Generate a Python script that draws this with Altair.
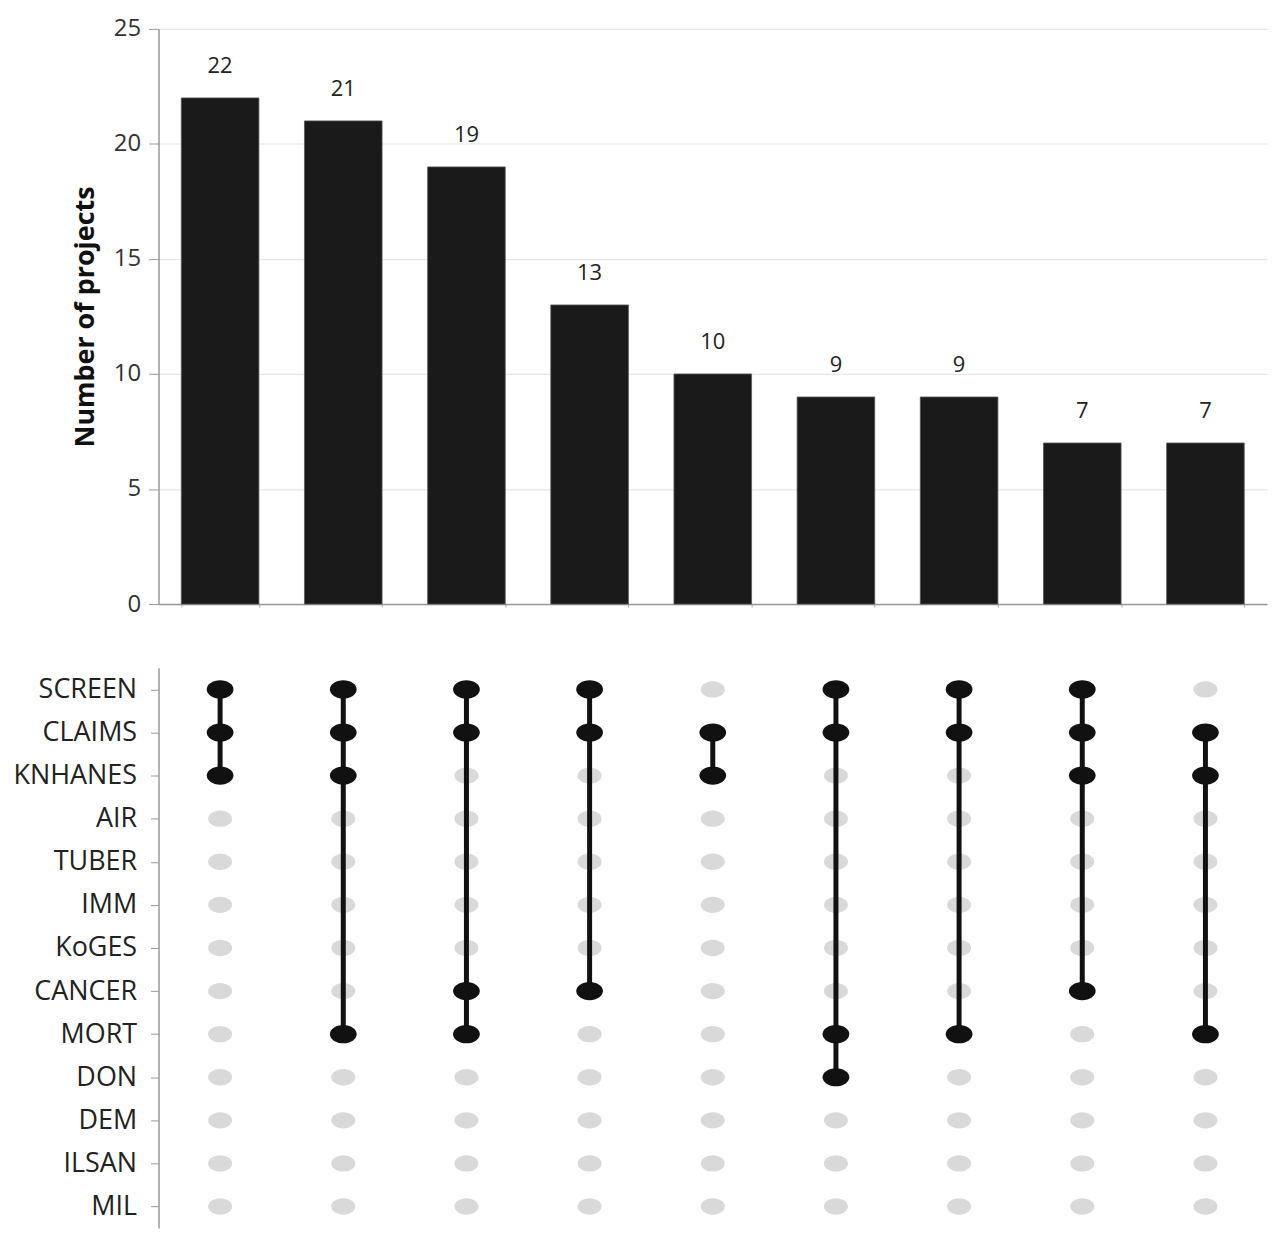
import altair as alt
import pandas as pd

sets = ["SCREEN", "CLAIMS", "KNHANES", "AIR", "TUBER", "IMM", "KoGES",
        "CANCER", "MORT", "DON", "DEM", "ILSAN", "MIL"]
counts = [22, 21, 19, 13, 10, 9, 9, 7, 7]
combos = [
    ["SCREEN", "CLAIMS", "KNHANES"],
    ["SCREEN", "CLAIMS", "KNHANES", "MORT"],
    ["SCREEN", "CLAIMS", "CANCER", "MORT"],
    ["SCREEN", "CLAIMS", "CANCER"],
    ["CLAIMS", "KNHANES"],
    ["SCREEN", "CLAIMS", "MORT", "DON"],
    ["SCREEN", "CLAIMS", "MORT"],
    ["SCREEN", "CLAIMS", "KNHANES", "CANCER"],
    ["CLAIMS", "KNHANES", "MORT"],
]
col_ids = [f"C{i + 1}" for i in range(len(counts))]

bars_df = pd.DataFrame({"col": col_ids, "count": counts})

cells = []
for cid, combo in zip(col_ids, combos):
    for s in sets:
        cells.append({"col": cid, "set": s, "active": s in combo})
cells_df = pd.DataFrame(cells)

lines = []
for cid, combo in zip(col_ids, combos):
    idx = sorted(sets.index(s) for s in combo)
    lines.append({"col": cid, "top": sets[idx[0]], "bottom": sets[idx[-1]]})
lines_df = pd.DataFrame(lines)

FONT = "Open Sans"
W = 1112
xscale = alt.Scale(domain=col_ids, paddingInner=0.37, paddingOuter=0.185)

base_top = alt.Chart(bars_df)
bars = base_top.mark_bar(color="#1a1a1a", stroke="#555", strokeWidth=0.8).encode(
    x=alt.X("col:N", scale=xscale, sort=col_ids,
            axis=alt.Axis(labels=False, title=None, tickBand="extent", tickSize=3,
                          tickColor="#aaa", domainColor="#999", domainWidth=1.5, grid=False)),
    y=alt.Y("count:Q", scale=alt.Scale(domain=[0, 25], nice=False),
            axis=alt.Axis(values=[0, 5, 10, 15, 20, 25], title="Number of projects",
                          titleFont=FONT, titleFontSize=27, titleFontWeight="bold",
                          titleColor="#111", titlePadding=14,
                          labelFont=FONT, labelFontSize=24, labelColor="#333",
                          labelPadding=8, tickSize=10, tickColor="#999",
                          domainColor="#999", domainWidth=1.5,
                          grid=True, gridColor="#e6e6e6", gridWidth=1.2)),
)
labels = base_top.mark_text(baseline="bottom", dy=-20, font=FONT, fontSize=22,
                            color="#222").encode(
    x=alt.X("col:N", scale=xscale, sort=col_ids),
    y=alt.Y("count:Q"),
    text="count:Q",
)
top = (bars + labels).properties(width=W, height=577)

yscale = alt.Scale(type="point", domain=sets, padding=0.5)
ell_path = "M-1,0 A1,0.68 0 1 1 1,0 A1,0.68 0 1 1 -1,0 Z"

yaxis = alt.Axis(title=None, labelFont=FONT, labelFontSize=27, labelColor="#222",
                 labelPadding=14, tickSize=8, tickColor="#999",
                 domainColor="#999", domainWidth=1.5, grid=False)

gray = alt.Chart(cells_df).transform_filter("!datum.active").mark_point(
    shape=ell_path, filled=True, color="#d9d9d9", opacity=1, size=580).encode(
    x=alt.X("col:N", scale=xscale, sort=col_ids, axis=None),
    y=alt.Y("set:N", scale=yscale, sort=sets, axis=yaxis),
)
rules = alt.Chart(lines_df).mark_rule(color="#111", strokeWidth=5).encode(
    x=alt.X("col:N", scale=xscale, sort=col_ids, axis=None),
    y=alt.Y("top:N", scale=yscale, sort=sets, axis=yaxis),
    y2="bottom:N",
)
black = alt.Chart(cells_df).transform_filter("datum.active").mark_point(
    shape=ell_path, filled=True, color="#111", opacity=1, size=720).encode(
    x=alt.X("col:N", scale=xscale, sort=col_ids, axis=None),
    y=alt.Y("set:N", scale=yscale, sort=sets, axis=yaxis),
)
matrix = (gray + rules + black).properties(width=W, height=562)

chart = alt.vconcat(top, matrix, spacing=52).configure_view(
    strokeWidth=0, stroke="transparent").properties(
    background="white", padding={"left": 5, "top": 7, "right": 5, "bottom": 5})

chart.save("out.html", embed_options={"renderer": "svg", "actions": False})
